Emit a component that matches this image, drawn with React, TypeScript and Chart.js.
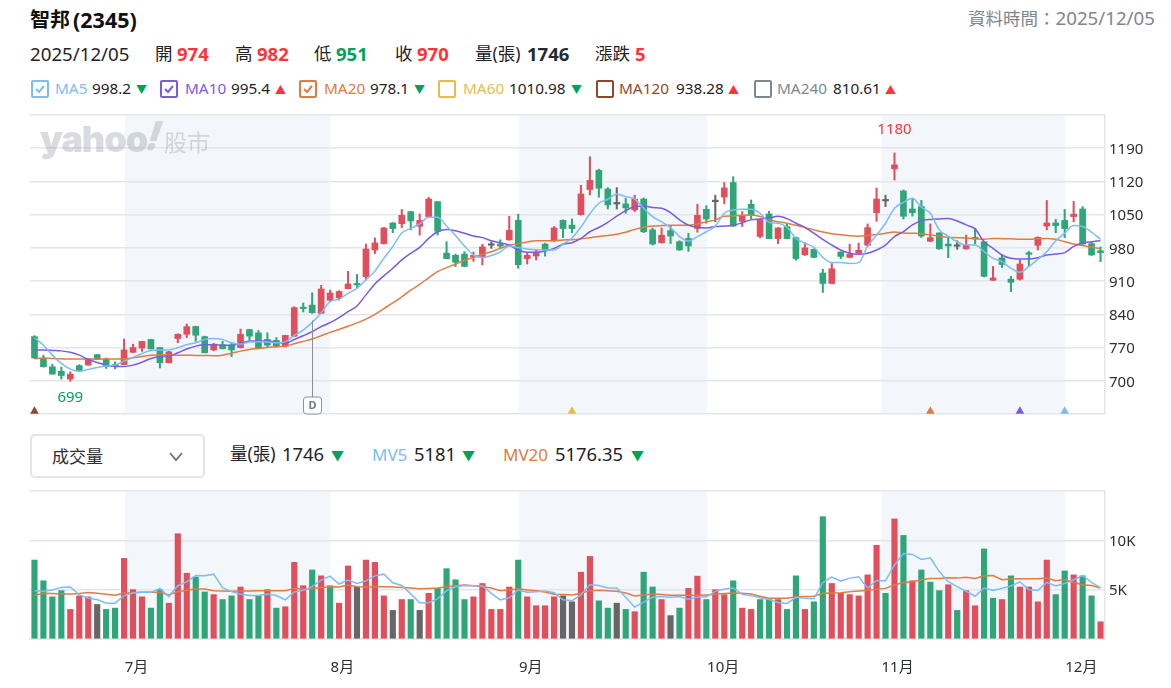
import React, { useEffect, useRef } from "react";
import { Chart, registerables } from "chart.js";

Chart.register(...registerables);

const FONT = '"Noto Sans", "Noto Sans CJK TC", sans-serif';
const RED = "#e04f5b";
const GREEN = "#2fa678";
const GRAY = "#666666";
const UP_TEXT = "#ff333a";
const DOWN_TEXT = "#00a25b";
const GRID = "#e3e6eb";
const MA5_COLOR = "#7dbcf7";
const MA10_COLOR = "#7a5ce0";
const MA20_COLOR = "#e07b42";
const MA60_COLOR = "#e9bb4f";
const MA120_COLOR = "#8e4a2c";
const MA240_COLOR = "#7d8892";

const dates = [
  "06/17", "06/18", "06/19", "06/20", "06/23", "06/24", "06/25", "06/26", "06/27", "06/30",
  "07/01", "07/02", "07/03", "07/04", "07/07", "07/08", "07/09", "07/10", "07/11", "07/14",
  "07/15", "07/16", "07/17", "07/18", "07/21", "07/22", "07/23", "07/24", "07/25", "07/28",
  "07/29", "07/30", "07/31", "08/01", "08/04", "08/05", "08/06", "08/07", "08/08", "08/11",
  "08/12", "08/13", "08/14", "08/15", "08/18", "08/19", "08/20", "08/21", "08/22", "08/25",
  "08/26", "08/27", "08/28", "08/29", "09/01", "09/02", "09/03", "09/04", "09/05", "09/08",
  "09/09", "09/10", "09/11", "09/12", "09/15", "09/16", "09/17", "09/18", "09/19", "09/22",
  "09/23", "09/24", "09/25", "09/26", "09/30", "10/01", "10/02", "10/03", "10/07", "10/08",
  "10/09", "10/13", "10/14", "10/15", "10/16", "10/17", "10/20", "10/21", "10/22", "10/23",
  "10/27", "10/28", "10/29", "10/30", "10/31", "11/03", "11/04", "11/05", "11/06", "11/07",
  "11/10", "11/11", "11/12", "11/13", "11/14", "11/17", "11/18", "11/19", "11/20", "11/21",
  "11/24", "11/25", "11/26", "11/27", "11/28", "12/01", "12/02", "12/03", "12/04", "12/05",
];

const opens = [
  793, 747, 729.5, 720, 703.5, 732, 733, 755, 745, 733,
  734, 760, 769, 787, 770, 738, 789, 798, 814.5, 793,
  765, 776, 775, 770, 808, 801, 787, 785, 773, 794,
  853, 859.5, 842, 869.5, 874.5, 894, 904, 919.4, 975.6, 989,
  1032.6, 1031, 1056.5, 1025.5, 1046, 1077.5, 969, 964.4, 967, 961,
  961.6, 985.5, 988, 997, 1038, 957.4, 963, 988, 994.8, 1038,
  1028, 1050, 1103, 1143.6, 1104, 1072.6, 1072.6, 1060, 1083, 1018,
  991, 1016.4, 993, 1000, 1021, 1061.4, 1077.4, 1087, 1117.6, 1036,
  1072, 1004, 1051.5, 999.5, 1025, 1001.6, 965.4, 977, 927, 905,
  971.4, 960, 969, 985.5, 1054, 1079, 1146.4, 1100, 1062, 1067,
  994, 1011.5, 988, 983.4, 978, 1001.6, 993, 911.7, 959, 914,
  914, 968, 985.5, 1026, 1032.6, 1038, 1046, 1062, 989, 974,
];
const highs = [
  795, 754, 735, 729, 719, 734, 746, 755.5, 748, 740,
  788, 777, 783, 787.5, 770.5, 762, 799, 819.5, 815, 794,
  779, 783, 780, 809, 808.5, 806, 801, 791, 796, 856,
  864, 885.5, 901, 891, 890, 930.7, 924, 988, 1001, 1023,
  1033, 1061, 1057, 1051.5, 1086.7, 1078, 993, 967, 972, 971.4,
  987.6, 993, 997, 1046.6, 1051, 968.6, 976, 990, 1025, 1039,
  1041, 1112, 1172, 1146, 1107, 1107, 1084.6, 1091, 1085, 1022,
  1022, 1026, 995, 1010.6, 1072, 1069, 1091, 1117.6, 1130, 1056.5,
  1081, 1041, 1057, 1023, 1030, 1003, 991, 978, 935, 947,
  972, 988, 990, 1030.5, 1106, 1091, 1180, 1102, 1083, 1080,
  1030.5, 1012, 1002, 995, 1007, 1021, 994, 941, 965, 920,
  954.6, 973, 1003, 1080, 1040, 1061, 1078, 1067, 993, 982,
];
const lows = [
  747, 729, 714, 703.5, 699, 721, 733, 745, 726, 725,
  734, 759, 762, 767, 727, 738, 780, 791, 783, 759,
  763, 767, 751, 769, 786, 768, 770, 771, 771, 793,
  845, 842, 842, 867, 870, 894, 895, 912, 968, 988,
  1012, 1022.7, 1018, 1007, 1045, 1007, 957, 940.5, 940, 951.7,
  944, 979, 978, 996, 937, 946, 954.6, 962.7, 993, 1001.6,
  1012, 1049, 1091.6, 1086.7, 1062, 1062, 1053, 1056.5, 1012, 986,
  990, 989, 975, 972.6, 1013, 1032, 1035, 1073, 1025, 1025,
  1041, 1001, 999, 989, 999, 954, 964, 959, 886, 904,
  957, 959, 968, 983, 1036, 1067, 1123, 1041, 1047, 1002,
  993, 977, 959.5, 977, 977, 988, 919, 911, 938.5, 888,
  912, 941, 975.6, 1018, 1012, 1001.6, 1035, 987, 964, 951,
];
const closes = [
  748, 729.5, 714, 711, 714, 721, 746, 745, 730, 731,
  765, 770, 783, 767, 738, 761, 798, 814, 796, 759,
  777, 767.5, 765, 798, 794, 769, 775, 773, 795.6, 854,
  852, 843.5, 893.4, 885, 888, 904, 902, 977.8, 990.4, 1022,
  1020.6, 1048.7, 1036.8, 1038, 1083, 1015, 957.4, 949.6, 941, 964.4,
  982, 985.5, 984, 1017, 944.7, 964.4, 970, 976, 1022, 1020.6,
  1020.6, 1093.7, 1122.5, 1105.7, 1070.5, 1072.6, 1064, 1082.5, 1014, 988,
  1006.6, 1005, 975.6, 984, 1048.7, 1041, 1077.4, 1106.4, 1026, 1048,
  1049.4, 1039, 999.5, 1022, 999.5, 957.4, 980, 960, 905, 936,
  962, 966.5, 975, 1022.7, 1083, 1079, 1155, 1046.6, 1054, 1005,
  1001.6, 978, 984, 983.4, 985.5, 999, 920, 916.6, 945, 907.5,
  946, 966.5, 1002.4, 1032.6, 1027, 1020.6, 1051, 988, 965, 970,
];

const ma5 = [
  790.7, 775, 754, 736.5, 724.6, 720, 724, 728, 731, 733,
  741.5, 749, 757.6, 764, 764.7, 765, 769.6, 776, 780, 787,
  789, 787, 780, 777, 781.5, 782, 781.5, 780, 782, 795.6,
  806.8, 823, 843, 866.7, 872, 884, 895, 912.7, 931, 958,
  983, 1011.5, 1021, 1030.5, 1044.5, 1044.5, 1026, 1006, 984, 965,
  959.5, 964, 971.4, 984, 980.6, 977.8, 976, 975.6, 975.6, 988,
  1001, 1024, 1052, 1074, 1082.5, 1093.7, 1088, 1083, 1063.5, 1046,
  1034.7, 1023, 1003.8, 994.6, 1003.8, 1014, 1026, 1053, 1060, 1061.4,
  1061.4, 1053, 1034, 1032, 1023.4, 1000, 989.7, 981, 960, 949,
  949, 947, 949, 983, 1007, 1032, 1063.5, 1076, 1084.6, 1065.6,
  1053, 1018, 1005, 993, 986, 986, 972, 958, 951, 937,
  928.6, 940.5, 956, 972, 995, 1011, 1027, 1025, 1013, 998.2,
];
const ma10 = [
  764.7, 764.7, 764, 763, 760, 754, 745, 738.6, 733, 730,
  730, 733, 739, 747, 751, 752, 759, 767, 773, 776,
  776, 775, 775, 779, 783.6, 784, 783.6, 781.5, 779, 787,
  795, 803.5, 814, 822.4, 833, 845.6, 857.6, 881, 904, 921,
  937, 954.6, 968.6, 981, 1000, 1014, 1019, 1016, 1011, 1005,
  1001.6, 995, 991, 986, 975.6, 970.7, 970.7, 973.5, 979, 987.6,
  991, 1000, 1014, 1023, 1034, 1047, 1058.6, 1067, 1068.4, 1065,
  1063.5, 1054.4, 1039, 1027.8, 1023.4, 1022, 1025, 1026, 1027.8, 1033,
  1039, 1041, 1043, 1046.6, 1041.6, 1032, 1023.4, 1011, 998, 986,
  975.6, 968.6, 966.5, 968.6, 975.6, 986, 1003.8, 1014.3, 1028.4, 1037.5,
  1040, 1041, 1041.7, 1036.8, 1028.4, 1020, 993, 979, 965, 958,
  956.7, 956.7, 959.5, 965, 967, 970, 983, 990.4, 993, 995.4,
];
const ma20 = [
  746.4, 747.8, 747, 746.4, 745.7, 745.7, 745.7, 745.7, 745.7, 745.7,
  745.7, 748.5, 751, 754, 755, 755, 754, 754, 753.4, 753.4,
  752.7, 754, 758, 762.5, 766, 768, 770, 771.7, 773, 778,
  783, 788, 795, 802, 808, 815, 822, 830, 840, 852,
  864, 877, 891, 903, 917, 930, 938.4, 946, 954, 960,
  966.5, 972, 979, 985.5, 989, 992.5, 995, 995, 995, 996.7,
  997.4, 999, 1001.6, 1004, 1006, 1008.7, 1013, 1019, 1023.4, 1026,
  1027, 1027.6, 1027.6, 1027.6, 1030.5, 1034.7, 1039, 1046.6, 1047.4, 1048.7,
  1049.4, 1046, 1040, 1035, 1032, 1027.6, 1022.7, 1018, 1013.4, 1010,
  1007.5, 1005.5, 1004.5, 1006, 1008, 1010.8, 1013.6, 1011.5, 1010.8, 1010,
  1007, 1004.5, 1002.4, 1001.6, 1001, 999.5, 998, 1000, 999.5, 999,
  998, 998, 999, 1000, 998, 993, 988, 984.8, 982, 978.1,
];

const volumes = [
  8000, 5900, 4270, 4900, 3000, 4370, 4270, 3500, 3000, 3130,
  8170, 5000, 4270, 3130, 5000, 3630, 10670, 6670, 6270, 4770,
  4500, 4000, 4370, 5270, 4000, 4370, 5000, 3130, 3270, 7770,
  5400, 7000, 6400, 5400, 3630, 7400, 5270, 8000, 7770, 4370,
  2900, 4000, 4000, 2900, 4630, 5130, 7130, 6000, 4000, 4270,
  5630, 3000, 3000, 5270, 8000, 4270, 3370, 3370, 4270, 4370,
  3770, 6770, 8370, 3870, 3130, 3630, 3000, 2770, 6770, 5270,
  4000, 2370, 3130, 5130, 6370, 4000, 5000, 4500, 5900, 3130,
  3000, 4000, 4000, 4000, 3000, 6400, 3000, 3770, 12400, 5630,
  4630, 4500, 4370, 6500, 9500, 4630, 12170, 10500, 5900, 7000,
  5770, 4900, 5500, 2900, 4900, 3370, 9130, 4130, 4000, 6400,
  5270, 5270, 3770, 8000, 4500, 6900, 6500, 6400, 4370, 1746,
];
// direction against the previous close: r up, g down, n unchanged
const volumeKinds = [
  "g", "g", "g", "g", "r", "r", "r", "n", "g", "g",
  "r", "r", "r", "g", "g", "r", "r", "r", "g", "g",
  "r", "g", "g", "r", "g", "g", "r", "g", "r", "r",
  "r", "g", "r", "g", "r", "r", "n", "r", "r", "r",
  "n", "r", "g", "n", "r", "g", "g", "g", "g", "r",
  "r", "r", "r", "r", "g", "r", "r", "r", "r", "n",
  "n", "r", "r", "g", "g", "n", "g", "r", "g", "g",
  "r", "n", "g", "r", "r", "g", "r", "r", "g", "r",
  "r", "g", "g", "r", "g", "g", "r", "g", "g", "r",
  "r", "r", "r", "r", "r", "g", "r", "g", "r", "g",
  "g", "g", "r", "g", "r", "r", "g", "g", "r", "g",
  "r", "r", "r", "r", "g", "g", "r", "g", "g", "r",
];
const mv5 = [
  4900, 4830, 4970, 5230, 5270, 4470, 4130, 4000, 3630, 3630,
  4400, 4670, 4770, 4730, 5130, 4300, 5400, 5800, 6430, 6400,
  6570, 5200, 4800, 4530, 4400, 4400, 4570, 4400, 3970, 4770,
  4930, 5300, 5970, 6370, 5570, 5970, 5630, 5900, 6400, 6570,
  5700, 5430, 4570, 3670, 3670, 4070, 4900, 5300, 5430, 5400,
  5400, 4630, 3970, 4170, 4970, 4730, 4800, 4870, 4700, 3970,
  3870, 4470, 5500, 5430, 5170, 5170, 4230, 3230, 3730, 4230,
  4300, 4230, 4300, 4030, 4230, 4270, 4830, 5070, 5170, 4530,
  4370, 4170, 4000, 3700, 3600, 4230, 4130, 4070, 5730, 6270,
  5870, 6170, 6300, 5170, 5930, 5900, 7500, 8670, 8570, 8070,
  8230, 6830, 5800, 5300, 4830, 4330, 5170, 4930, 5130, 5370,
  5800, 5000, 4930, 5730, 5370, 5630, 6000, 6430, 5730, 5181,
];
const mv20 = [
  4430, 4630, 4600, 4570, 4570, 4600, 4700, 4630, 4530, 4430,
  4670, 4700, 4730, 4730, 4730, 4470, 4800, 4930, 5070, 5070,
  4900, 4870, 4830, 4870, 4870, 4900, 4900, 4900, 4900, 5130,
  5070, 5100, 5230, 5300, 5270, 5470, 5300, 5270, 5300, 5300,
  5270, 5230, 5170, 5100, 5130, 5170, 5300, 5400, 5470, 5400,
  5300, 5170, 4900, 4970, 5100, 4970, 4900, 4770, 4530, 4500,
  4470, 4630, 4900, 4930, 4900, 4830, 4670, 4370, 4470, 4570,
  4500, 4430, 4430, 4430, 4430, 4470, 4530, 4600, 4670, 4630,
  4570, 4330, 4130, 4130, 4130, 4270, 4300, 4330, 4630, 4670,
  4700, 4800, 4870, 4930, 5030, 5130, 5470, 5730, 5800, 6000,
  6130, 6130, 6200, 6170, 6270, 6130, 6400, 6430, 6000, 6070,
  6100, 6100, 6100, 6170, 5900, 6030, 5730, 5500, 5430, 5176,
];

const yTicks = [700, 770, 840, 910, 980, 1050, 1120, 1190];
const volumeTicks = { 5000: "5K", 10000: "10K" } as Record<number, string>;
const monthLabels = ["7月", "8月", "9月", "10月", "11月", "12月"];
const monthStarts = [10.08, 33.05, 54.08, 75.08, 94.55, 115.06];
const bandRanges = [[10.08, 33.05], [54.08, 75.08], [94.55, 115.06]];
const signalDates = ["06/17", "09/09", "11/10", "11/24", "12/01"];
const signalColors = [MA120_COLOR, MA60_COLOR, MA20_COLOR, MA10_COLOR, MA5_COLOR];
const signalLevel = 636;
const flagDate = "07/30";

const candleColor = (i: number) =>
  closes[i] > opens[i] ? RED : closes[i] < opens[i] ? GREEN : GRAY;
const allIdx = dates.map((_, i) => i);

const bandPlugin = {
  id: "monthBands",
  beforeDraw(chart: any) {
    const { ctx, chartArea, scales } = chart;
    ctx.save();
    ctx.fillStyle = "#f3f6fa";
    bandRanges.forEach(([a, b]) => {
      const x0 = scales.x.getPixelForValue(a);
      const x1 = scales.x.getPixelForValue(b);
      ctx.fillRect(x0, chartArea.top, x1 - x0, chartArea.bottom - chartArea.top);
    });
    ctx.restore();
  },
};

// 1180 / 699 labels and the dividend flag
const notesPlugin = {
  id: "priceNotes",
  afterDatasetsDraw(chart: any) {
    const { ctx, scales } = chart;
    const { x, y } = scales;
    const hi = highs.indexOf(Math.max(...highs));
    const lo = lows.indexOf(Math.min(...lows));
    ctx.save();
    ctx.font = `15px ${FONT}`;
    ctx.textAlign = "center";
    ctx.textBaseline = "middle";
    ctx.fillStyle = UP_TEXT;
    ctx.fillText(String(highs[hi]), x.getPixelForValue(hi), y.getPixelForValue(highs[hi]) - 23);
    ctx.fillStyle = DOWN_TEXT;
    ctx.fillText(String(lows[lo]), x.getPixelForValue(lo), y.getPixelForValue(lows[lo]) + 16);

    const flag = dates.indexOf(flagDate);
    const fx = Math.round(x.getPixelForValue(flag)) + 0.5;
    const bottom = chart.chartArea.bottom;
    ctx.strokeStyle = "#8a8f96";
    ctx.lineWidth = 1;
    ctx.beginPath();
    ctx.moveTo(fx, y.getPixelForValue(lows[flag]) + 7);
    ctx.lineTo(fx, bottom - 17);
    ctx.stroke();
    ctx.fillStyle = "#fff";
    ctx.strokeStyle = "#8a939e";
    ctx.beginPath();
    ctx.roundRect(fx - 9, bottom - 17, 18, 17, 3);
    ctx.fill();
    ctx.stroke();
    ctx.fillStyle = "#6f7780";
    ctx.font = `bold 11px ${FONT}`;
    ctx.fillText("D", fx, bottom - 8);
    ctx.restore();
  },
};

function PriceChart() {
  const ref = useRef<HTMLCanvasElement | null>(null);
  useEffect(() => {
    if (!ref.current) return;
    const line = (label: string, data: number[], color: string) => ({
      type: "line" as const,
      label,
      data,
      borderColor: color,
      borderWidth: 1.5,
      pointRadius: 0,
      cubicInterpolationMode: "monotone" as const,
      order: 0,
    });
    const chart = new Chart(ref.current, {
      type: "bar",
      data: {
        labels: dates,
        datasets: [
          {
            type: "line" as const,
            label: "signals",
            data: signalDates.map((d) => ({ x: d, y: signalLevel })),
            showLine: false,
            pointStyle: "triangle",
            pointRadius: 5,
            pointBorderWidth: 0,
            pointBackgroundColor: signalColors,
            order: 0,
          },
          line("MA5", ma5, MA5_COLOR),
          line("MA10", ma10, MA10_COLOR),
          line("MA20", ma20, MA20_COLOR),
          {
            label: "body",
            data: allIdx.map((i) => [opens[i], closes[i]]),
            backgroundColor: allIdx.map(candleColor),
            barThickness: 6,
            minBarLength: 1.5,
            grouped: false,
            order: 1,
          },
          {
            label: "wick",
            data: allIdx.map((i) => [lows[i], highs[i]]),
            backgroundColor: allIdx.map(candleColor),
            barThickness: 1.4,
            grouped: false,
            order: 2,
          },
        ] as any,
      },
      options: {
        responsive: false,
        animation: false,
        layout: { padding: { left: 30, top: 15, bottom: 6, right: 0 } },
        plugins: { legend: { display: false }, tooltip: { enabled: false } },
        scales: {
          x: { display: false, offset: true, grid: { display: false } },
          y: {
            position: "right",
            min: 630,
            max: 1260,
            afterBuildTicks: (s: any) => {
              s.ticks = [630, ...yTicks, 1260].map((value) => ({ value }));
            },
            afterFit: (s: any) => {
              s.width = 66;
            },
            grid: { color: GRID, lineWidth: 1.5, drawTicks: false },
            border: { display: true, color: GRID, width: 1.5 },
            ticks: {
              padding: 4,
              labelOffset: 1.5,
              color: "#2b2f36",
              font: { family: FONT, size: 15 },
              callback: (v: any) => (yTicks.includes(v) ? String(v) : ""),
            },
          },
        },
      },
      plugins: [bandPlugin, notesPlugin],
    } as any);
    return () => chart.destroy();
  }, []);
  return <canvas ref={ref} width={1171} height={327} style={{ position: "absolute", left: 0, top: 100 }} />;
}

function VolumeChart() {
  const ref = useRef<HTMLCanvasElement | null>(null);
  useEffect(() => {
    if (!ref.current) return;
    const kindColor = { r: RED, g: GREEN, n: GRAY } as Record<string, string>;
    const line = (label: string, data: number[], color: string) => ({
      type: "line" as const,
      label,
      data,
      borderColor: color,
      borderWidth: 1.5,
      pointRadius: 0,
      tension: 0,
      order: 0,
    });
    const chart = new Chart(ref.current, {
      type: "bar",
      data: {
        labels: dates,
        datasets: [
          line("MV5", mv5, MA5_COLOR),
          line("MV20", mv20, MA20_COLOR),
          {
            label: "量",
            data: volumes,
            backgroundColor: volumeKinds.map((k) => kindColor[k]),
            barThickness: 5.5,
            order: 1,
          },
        ] as any,
      },
      options: {
        responsive: false,
        animation: false,
        layout: { padding: { left: 30, top: 8, bottom: 0, right: 0 } },
        plugins: { legend: { display: false }, tooltip: { enabled: false } },
        scales: {
          x: {
            offset: true,
            grid: { display: false },
            border: { display: true, color: GRID, width: 1.5 },
            afterBuildTicks: (s: any) => {
              s.ticks = monthStarts.map((value) => ({ value }));
            },
            afterFit: (s: any) => {
              s.height = 49;
            },
            ticks: {
              autoSkip: false,
              maxRotation: 0,
              align: "start",
              padding: 12,
              color: "#2b2f36",
              font: { family: FONT, size: 15 },
              callback: (_v: any, i: number) => monthLabels[i],
            },
          },
          y: {
            position: "right",
            min: 0,
            max: 15000,
            afterBuildTicks: (s: any) => {
              s.ticks = [0, 5000, 10000, 15000].map((value) => ({ value }));
            },
            afterFit: (s: any) => {
              s.width = 66;
            },
            grid: { color: GRID, lineWidth: 1.5, drawTicks: false },
            border: { display: true, color: GRID, width: 1.5 },
            ticks: {
              padding: 4,
              labelOffset: 1,
              color: "#2b2f36",
              font: { family: FONT, size: 15 },
              callback: (v: any) => volumeTicks[v] || "",
            },
          },
        },
      },
      plugins: [bandPlugin],
    } as any);
    return () => chart.destroy();
  }, []);
  return <canvas ref={ref} width={1171} height={210} style={{ position: "absolute", left: 0, top: 478 }} />;
}

const Txt = ({ x, y, size = 16, color = "#1f2329", bold = false, children }: any) => (
  <span
    style={{
      position: "absolute",
      left: x,
      top: y,
      transform: "translateY(-50%)",
      fontSize: size,
      color,
      fontWeight: bold ? 700 : 400,
      lineHeight: 1,
      whiteSpace: "nowrap",
    }}
  >
    {children}
  </span>
);

const CheckBox = ({ x, color, checked }: any) => (
  <svg width="18" height="18" style={{ position: "absolute", left: x, top: 80 }}>
    <rect x="1" y="1" width="16" height="16" rx="1" fill="#fff" stroke={color} strokeWidth="2" />
    {checked && <polyline points="5,9 8,12 13,6" fill="none" stroke={color} strokeWidth="2" />}
  </svg>
);

const legendRow = [
  { box: 31, name: "MA5", nameX: 55, value: "998.2", valueX: 92, up: false, arrowX: 136, color: MA5_COLOR, checked: true },
  { box: 160, name: "MA10", nameX: 185, value: "995.4", valueX: 231, up: true, arrowX: 275, color: MA10_COLOR, checked: true },
  { box: 299, name: "MA20", nameX: 324, value: "978.1", valueX: 370, up: false, arrowX: 414, color: MA20_COLOR, checked: true },
  { box: 438, name: "MA60", nameX: 463, value: "1010.98", valueX: 509, up: false, arrowX: 571, color: MA60_COLOR, checked: false },
  { box: 596, name: "MA120", nameX: 619, value: "938.28", valueX: 676, up: true, arrowX: 728, color: MA120_COLOR, checked: false },
  { box: 754, name: "MA240", nameX: 777, value: "810.61", valueX: 833, up: true, arrowX: 885, color: MA240_COLOR, checked: false },
];

const WATERMARK = "rgba(150,156,168,0.36)";

export default function App() {
  return (
    <div style={{ position: "absolute", left: 0, top: 0, width: 1171, height: 688, background: "#fff", fontFamily: FONT, overflow: "hidden" }}>
      <Txt x={30} y={20} size={20} bold color="#111">智邦</Txt>
      <Txt x={73} y={20} size={21.5} bold color="#111">(2345)</Txt>
      <Txt x={968} y={18} size={17.5} color="#80868e">資料時間：<span style={{ fontSize: 18.7 }}>2025/12/05</span></Txt>

      <Txt x={30} y={54} size={18.7}>2025/12/05</Txt>
      <Txt x={155} y={54} size={17.5}>開</Txt>
      <Txt x={177} y={54} size={18.5} bold color={UP_TEXT}>974</Txt>
      <Txt x={235} y={54} size={17.5}>高</Txt>
      <Txt x={257} y={54} size={18.5} bold color={UP_TEXT}>982</Txt>
      <Txt x={314} y={54} size={17.5}>低</Txt>
      <Txt x={336} y={54} size={18.5} bold color={DOWN_TEXT}>951</Txt>
      <Txt x={395} y={54} size={17.5}>收</Txt>
      <Txt x={417} y={54} size={18.5} bold color={UP_TEXT}>970</Txt>
      <Txt x={475} y={54} size={17.5}>量(張)</Txt>
      <Txt x={527} y={54} size={18.5} bold color="#232a31">1746</Txt>
      <Txt x={595} y={54} size={17.5}>漲跌</Txt>
      <Txt x={635} y={54} size={18.5} bold color={UP_TEXT}>5</Txt>

      {legendRow.map((r) => (
        <React.Fragment key={r.name}>
          <CheckBox x={r.box} color={r.color} checked={r.checked} />
          <Txt x={r.nameX} y={88.5} size={15.3} color={r.color}>{r.name}</Txt>
          <Txt x={r.valueX} y={88.5} size={15.3}>{r.value}</Txt>
          <Txt x={r.arrowX} y={89} size={11} color={r.up ? UP_TEXT : DOWN_TEXT}>{r.up ? "▲" : "▼"}</Txt>
        </React.Fragment>
      ))}

      <PriceChart />
      <VolumeChart />

      <div style={{ position: "absolute", left: 40, top: 117, fontFamily: "Inter, sans-serif", fontWeight: 900, fontSize: 36, letterSpacing: -1, color: WATERMARK, lineHeight: "44px", whiteSpace: "nowrap" }}>
        yahoo<span style={{ display: "inline-block", transform: "skewX(-18deg) translate(0px,-3px) scaleY(1.1)" }}>!</span>
      </div>
      <div style={{ position: "absolute", left: 164, top: 129, fontSize: 23, color: WATERMARK, lineHeight: "26px", whiteSpace: "nowrap" }}>股市</div>

      <div style={{ position: "absolute", left: 30, top: 434, width: 171, height: 40, border: "2px solid #e2e5ea", borderRadius: 5, background: "#fff" }} />
      <Txt x={52} y={456} size={17} color="#2b2f36">成交量</Txt>
      <svg width="16" height="10" style={{ position: "absolute", left: 168, top: 452 }}>
        <polyline points="2,1 8,8 14,1" fill="none" stroke="#6b7178" strokeWidth="1.8" />
      </svg>

      <Txt x={230} y={454} size={17.5}>量(張)</Txt>
      <Txt x={282} y={454} size={18.4}>1746</Txt>
      <Txt x={331} y={455} size={13} color={DOWN_TEXT}>▼</Txt>
      <Txt x={372} y={454} size={17} color={MA5_COLOR}>MV5</Txt>
      <Txt x={414} y={454} size={18.4}>5181</Txt>
      <Txt x={462} y={455} size={13} color={DOWN_TEXT}>▼</Txt>
      <Txt x={503} y={454} size={17} color={MA20_COLOR}>MV20</Txt>
      <Txt x={555} y={454} size={18.4}>5176.35</Txt>
      <Txt x={631} y={455} size={13} color={DOWN_TEXT}>▼</Txt>
    </div>
  );
}
